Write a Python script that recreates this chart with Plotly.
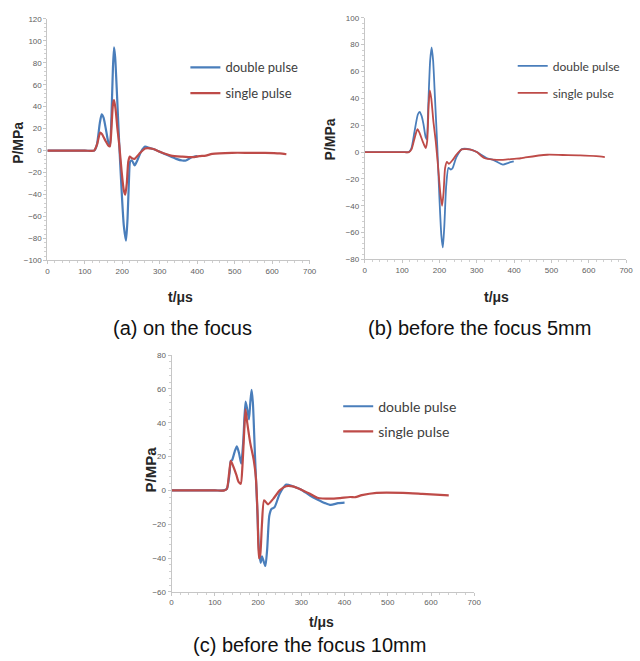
import plotly.graph_objects as go

# ---------------- data ----------------
# (a) on the focus
t_a_double = [0, 100, 125, 132, 140, 145, 150, 157, 163, 167, 171, 175, 178, 181, 186, 192, 198, 204, 210, 214, 218, 221, 226, 233, 240, 250, 261, 272, 283, 300, 320, 344, 360, 370, 385, 401]
p_a_double = [0, 0, 0, 5, 25, 33, 30, 18, 7, 4.5, 30, 75, 94, 85, 50, 5, -35, -68, -82, -62, -25, -10, -9, -13.5, -9, -1, 3.6, 2.5, 1.5, -1, -4, -7.5, -9, -9, -6, -5]
t_a_single = [0, 100, 125, 133, 141, 146, 155, 163, 167, 171, 175, 178, 182, 187, 192, 198, 204, 208, 212, 216, 220, 226, 233, 245, 261, 283, 300, 330, 360, 388, 405, 423, 440, 493, 540, 581, 620, 638]
p_a_single = [0, 0, 0, 6, 16.5, 15, 9, 4.5, 4, 20, 42, 46, 38, 20, 5, -18, -36, -40, -30, -10, -5.4, -7, -7.5, -3, 2, 1.5, -1, -4.5, -5.5, -6, -5, -4.5, -3, -2, -2, -2, -2.5, -3.3]

# (b) before the focus 5mm
t_b_double = [0, 100, 118, 125, 133, 142, 147, 152, 157, 163, 166, 170, 175, 179, 183, 188, 194, 200, 205, 209, 213, 218, 224, 230, 235, 245, 260, 286, 300, 326, 345, 370, 385, 399]
p_b_double = [0, 0, 0, 3, 15, 28, 30, 27, 21, 11, 9.5, 35, 68, 78, 68, 40, 5, -35, -62, -71, -55, -25, -11.7, -13, -12, -4, 2.2, 1.7, 0, -4.4, -6, -9.3, -8, -7]
t_b_single = [0, 100, 118, 125, 133, 141, 147, 155, 163, 167, 171, 174, 178, 184, 190, 196, 202, 207, 211, 215, 220, 225, 235, 245, 260, 286, 300, 320, 345, 370, 400, 418, 430, 489, 530, 577, 620, 643]
p_b_single = [0, 0, 0, 2, 10, 17, 14, 8, 3, 8, 35, 46, 40, 22, 8, -10, -30, -40, -30, -12, -7.3, -8.8, -6, -2, 2, 1.7, 0, -4.4, -5.6, -5.8, -5, -4.6, -4, -2, -2.2, -2.4, -3, -3.7]

# (c) before the focus 10mm
t_c_double = [0, 100, 120, 128, 134, 137, 140, 146, 151, 156, 161, 166, 171, 175, 179, 182, 185, 188, 193, 198, 202, 206, 209, 213, 217, 221, 226, 231, 238, 250, 265, 280, 299, 320, 337, 355, 368, 385, 400]
p_c_double = [0, 0, 0, 1, 10, 17.5, 18, 23, 26, 22, 15.8, 30, 52.5, 48, 42, 52, 59.5, 52, 20, -10, -35, -42.8, -39, -42, -44.7, -35, -15, -11, -10, -2, 3.5, 2.5, 0.6, -3, -5.3, -7.5, -8.6, -7.5, -7.2]
t_c_single = [0, 100, 122, 128, 133, 137, 143, 150, 155, 160, 164, 168, 171, 175, 182, 190, 195, 199, 202, 205, 209, 214, 223, 235, 250, 265, 280, 299, 320, 337, 368, 390, 413, 425, 440, 474, 535, 580, 641]
p_c_single = [0, 0, 0, 1, 10, 17.5, 14, 9, 5, 3.9, 15, 35, 48, 40, 28, 18, 7.4, -15, -40, -38, -20, -5.8, -8.2, -5, 0, 2.5, 2.4, 0.6, -2, -4.3, -4.9, -4.5, -3.9, -4, -2.8, -1.4, -1.4, -2, -2.9]

series_names = ["double pulse", "single pulse"]
captions = ["(a) on the focus", "(b) before the focus 5mm", "(c) before the focus 10mm"]
y_ranges = [[-100, 120], [-80, 100], [-60, 80]]
x_range = [0, 700]

# ---------------- figure ----------------
W, H = 640, 661
BLUE = "#4a7ebb"
RED = "#be4b48"

def px(x):
    return x / W

def py(y):
    return 1 - y / H

fig = go.Figure()

panels = [
    dict(xa="x", ya="y", leg="legend", data=[(t_a_double, p_a_double), (t_a_single, p_a_single)], lw=2.2),
    dict(xa="x2", ya="y2", leg="legend2", data=[(t_b_double, p_b_double), (t_b_single, p_b_single)], lw=1.8),
    dict(xa="x3", ya="y3", leg="legend3", data=[(t_c_double, p_c_double), (t_c_single, p_c_single)], lw=2.2),
]
colors = [BLUE, RED]
for k, pn in enumerate(panels):
    for j, (t, p) in enumerate(pn["data"]):
        fig.add_trace(go.Scatter(
            x=t, y=p, mode="lines", name=series_names[j],
            line=dict(color=colors[j], width=pn["lw"], shape="spline", smoothing=0.6),
            xaxis=pn["xa"], yaxis=pn["ya"], legend=pn["leg"],
            legendgroup=f"g{k}{j}", showlegend=True,
        ))

domains = [
    ((46, 312), (15, 260)),
    ((368, 633), (14, 259)),
    ((172, 479), (356, 596)),
]

def xaxis_style(dom):
    return dict(
        domain=[px(dom[0]), px(dom[1])], range=x_range, dtick=100, tick0=0,
        showline=True, linecolor="#c6c6c6", linewidth=1, showgrid=False, zeroline=False,
        ticks="outside", ticklen=3, tickcolor="#c6c6c6",
        minor=dict(ticks="outside", ticklen=2, dtick=20, tickcolor="#d0d0d0"),
        tickfont=dict(family="Liberation Sans", size=8, color="#606060"),
    )

def yaxis_style(dom, rng, anchor):
    return dict(
        domain=[py(dom[1]), py(dom[0])], range=rng, dtick=20,
        showline=True, linecolor="#c6c6c6", linewidth=1, showgrid=False, zeroline=False,
        ticks="outside", ticklen=3, tickcolor="#c6c6c6",
        minor=dict(ticks="outside", ticklen=2, dtick=4, tickcolor="#d0d0d0"),
        tickfont=dict(family="Liberation Sans", size=8, color="#606060"),
        anchor=anchor,
    )

layout = dict(
    width=W, height=H, margin=dict(l=0, r=0, t=0, b=0),
    paper_bgcolor="white", plot_bgcolor="white",
    xaxis=dict(**xaxis_style(domains[0][0]), anchor="y"),
    yaxis=yaxis_style(domains[0][1], y_ranges[0], "x"),
    xaxis2=dict(**xaxis_style(domains[1][0]), anchor="y2"),
    yaxis2=yaxis_style(domains[1][1], y_ranges[1], "x2"),
    xaxis3=dict(**xaxis_style(domains[2][0]), anchor="y3"),
    yaxis3=yaxis_style(domains[2][1], y_ranges[2], "x3"),
)

def legend_style(xl, ytop, size, gap):
    return dict(
        x=px(xl), y=py(ytop), xanchor="left", yanchor="top",
        bgcolor="rgba(0,0,0,0)", borderwidth=0, itemwidth=30,
        font=dict(family="Lato", size=size, color="#404040"),
        tracegroupgap=gap, itemclick=False, itemdoubleclick=False,
    )

layout["legend"] = legend_style(186, 49, 13, 6)
layout["legend2"] = legend_style(518, 48, 12, 8)
layout["legend3"] = legend_style(341, 392, 14, 4)
fig.update_layout(**layout)

ann = []
# axis titles
for (xc, yc, size) in [(16, 141, 14), (333, 137, 14), (151, 472, 15)]:
    ann.append(dict(x=px(xc), y=py(yc), xref="paper", yref="paper", text="<b>P/MPa</b>",
                    xanchor="center", yanchor="middle",
                    textangle=-90, showarrow=False, font=dict(family="Liberation Sans", size=size, color="#262626")))
for (xc, yc) in [(181, 297), (502, 297), (324, 627)]:
    ann.append(dict(x=px(xc), y=py(yc), xref="paper", yref="paper", text="<b>t/μs</b>",
                    xanchor="center", yanchor="middle",
                    showarrow=False, font=dict(family="Liberation Sans", size=14, color="#262626")))
for cap, (xc, yc) in zip(captions, [(183, 328), (484, 328), (312, 650)]):
    ann.append(dict(x=px(xc), y=py(yc), xref="paper", yref="paper", text=cap,
                    xanchor="center", yanchor="middle",
                    showarrow=False, font=dict(family="Liberation Sans", size=20, color="#111111")))
fig.update_layout(annotations=ann)

fig.write_html("out.html", config={"displayModeBar": False},
               post_script="document.body.style.margin='0';")
